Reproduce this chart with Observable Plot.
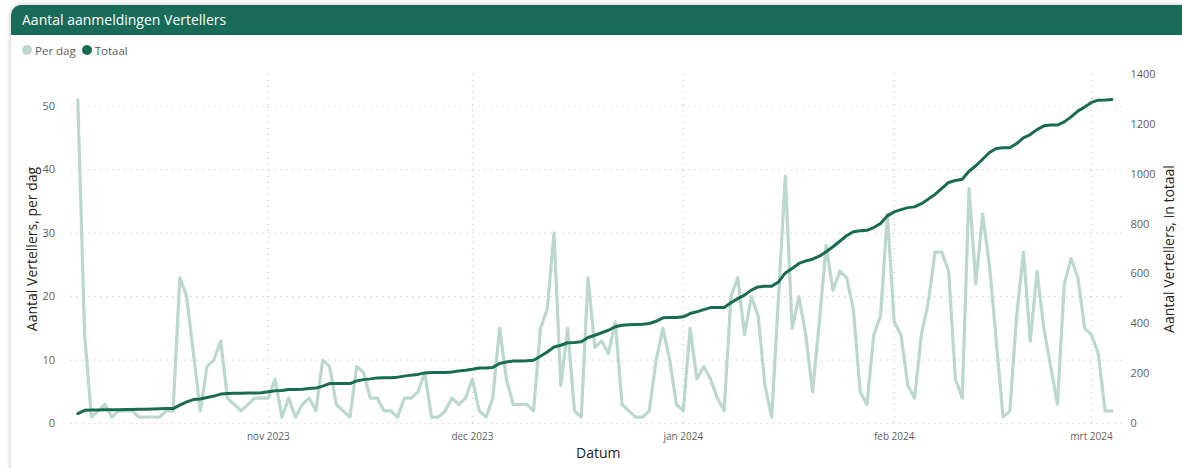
<!DOCTYPE html>
<html><head><meta charset="utf-8">
<script src="https://cdn.jsdelivr.net/npm/d3@7"></script>
<script src="https://cdn.jsdelivr.net/npm/@observablehq/plot@0.6"></script>
<style>
html,body{margin:0;padding:0;background:#fff;width:1182px;height:468px;overflow:hidden;font-family:"Segoe UI","Open Sans",sans-serif;}
#card{position:absolute;left:11px;top:5px;width:1200px;height:480px;background:#fff;border-radius:10px;box-shadow:0 0 5px rgba(0,0,0,0.28);}
#title{position:absolute;left:11px;top:5px;width:1200px;height:30px;background:#176b57;border-radius:10px 10px 0 0;color:#fff;font-size:14px;line-height:30px;padding-left:11px;box-sizing:border-box;}
#legend{position:absolute;left:22px;top:41px;font-size:11.5px;color:#605e5c;display:flex;align-items:center;height:18px;}
#legend span.item{display:flex;align-items:center;margin-right:6px;}
.sw{display:inline-block;width:10px;height:10px;border-radius:50%;margin-right:3px;}
#chart{position:absolute;left:0;top:60px;}
</style>
</head><body>
<div id="card"></div>
<div id="title">Aantal aanmeldingen Vertellers</div>
<div id="legend"></div>
<div id="chart"></div>
<script>
// ---- data ----
const startDate = "2023-10-04";
const perDag = [
 51,14,1,2,3,1,2,2,2,1, 1,1,1,2,2,23,20,11,2,9, 10,13,4,3,2,3,4,4,4,7,
 1,4,1,3,4,2,10,9,3,2, 1,9,8,4,4,2,2,1,4,4, 5,8,1,1,2,4,3,4,7,2,
 1,4,15,7,3,3,3,2,15,18, 30,6,15,2,1,23,12,13,11,16, 3,2,1,1,2,10,15,10,3,2,
 15,7,9,7,4,2,20,23,14,20, 17,6,1,20,39,15,20,14,5,16, 28,21,24,23,18,5,3,14,17,33,
 16,14,6,4,14,19,27,27,24,7, 4,37,22,33,25,13,1,2,17,27, 13,24,15,9,3,22,26,23,15,14,
 11,2,2
];
const totaal = [
 40,53,54,54,55,55,55,56,56,57, 57,58,59,60,60,74,87,96,98,104, 110,118,120,121,121,122,122,123,127,131,
 132,136,136,137,140,142,150,160,160,160, 160,171,176,179,183,184,184,186,190,194, 197,203,205,205,205,207,211,214,218,223,
 223,225,241,247,251,251,252,254,270,287, 307,314,324,325,328,345,354,364,374,388, 394,396,397,398,401,410,424,425,425,428,
 441,448,457,465,465,465,484,501,515,535, 548,551,551,568,604,622,642,652,659,671, 689,709,731,753,769,773,775,786,802,833,
 849,858,866,869,882,900,919,943,967,975, 980,1012,1034,1060,1087,1103,1106,1106,1123,1146, 1159,1179,1194,1197,1197,1210,1230,1253,1270,1288,
 1297,1298,1300
];
const leftTicks = [0,10,20,30,40,50];
const rightTicks = [0,200,400,600,800,1000,1200,1400];
const monthTicks = ["2023-11-01","2023-12-01","2024-01-01","2024-02-01","2024-03-01"];
const monthNames = ["jan","feb","mrt","apr","mei","jun","jul","aug","sep","okt","nov","dec"];
const seriesNames = ["Per dag","Totaal"];
const seriesColors = ["#bcd8ce","#1a6b54"];
const titles = {left:"Aantal Vertellers, per dag", right:"Aantal Vertellers, in totaal", x:"Datum"};

// ---- build ----
const leftMax = 55, rightMax = 1400;
const toLeft = v => v * leftMax / rightMax;
const t0 = new Date(startDate + "T00:00:00Z");
const data = perDag.map((v, i) => ({date: d3.utcDay.offset(t0, i), perDag: v, totaal: totaal[i]}));
const mTicks = monthTicks.map(s => new Date(s + "T00:00:00Z"));

const legend = document.getElementById("legend");
seriesNames.forEach((n, i) => {
  const s = document.createElement("span"); s.className = "item";
  s.innerHTML = `<span class="sw" style="background:${seriesColors[i]}"></span>${n}`;
  legend.appendChild(s);
});

const font = '"Segoe UI","Open Sans",sans-serif';
const chart = Plot.plot({
  width: 1182, height: 408,
  marginLeft: 70.5, marginRight: 57, marginTop: 14, marginBottom: 45,
  style: {fontFamily: font, fontSize: "10px", color: "#605e5c", background: "transparent"},
  x: {type: "utc", domain: [new Date("2023-10-03T00:00:00Z"), new Date("2024-03-06T00:00:00Z")]},
  y: {domain: [0, leftMax]},
  marks: [
    Plot.gridY(leftTicks, {stroke: "#c8c6c4", strokeOpacity: 1, strokeDasharray: "1,5", strokeWidth: 1.2}),
    Plot.gridX(mTicks, {stroke: "#c8c6c4", strokeOpacity: 1, strokeDasharray: "1,5", strokeWidth: 1.2}),
    Plot.axisY(leftTicks, {anchor: "left", tickSize: 0, tickPadding: 16, label: null, fill: "#605e5c", fontSize: 11}),
    Plot.axisY(rightTicks.map(toLeft), {anchor: "right", tickSize: 0, tickPadding: 5, label: null, fill: "#605e5c", fontSize: 11,
      tickFormat: d => String(Math.round(d * rightMax / leftMax))}),
    Plot.axisX(mTicks, {anchor: "bottom", tickSize: 0, tickPadding: 9, label: null, fill: "#605e5c", fontSize: 10,
      tickFormat: d => `${monthNames[d.getUTCMonth()]} ${d.getUTCFullYear()}`}),
    Plot.text([titles.left], {frameAnchor: "left", rotate: -90, dx: -38.5, textAnchor: "middle", lineAnchor: "middle", text: d => d, fill: "#252423", fontSize: 14}),
    Plot.text([titles.right], {frameAnchor: "right", rotate: -90, dx: 44, textAnchor: "middle", lineAnchor: "middle", text: d => d, fill: "#252423", fontSize: 14}),
    Plot.text([titles.x], {frameAnchor: "bottom", dy: 30, textAnchor: "middle", lineAnchor: "middle", text: d => d, fill: "#252423", fontSize: 14}),
    Plot.lineY(data, {x: "date", y: "perDag", stroke: seriesColors[0], strokeWidth: 3.2}),
    Plot.lineY(data, {x: "date", y: d => toLeft(d.totaal), stroke: seriesColors[1], strokeWidth: 3})
  ]
});
document.getElementById("chart").appendChild(chart);
</script>
</body></html>
